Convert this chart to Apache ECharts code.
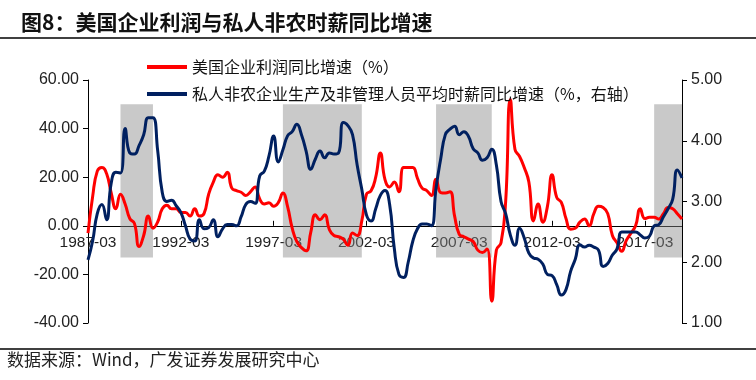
<!DOCTYPE html>
<html>
<head>
<meta charset="utf-8">
<script src="https://cdn.jsdelivr.net/npm/echarts@6/dist/echarts.min.js"></script>
<style>
html,body{margin:0;padding:0;background:#fff;}
#chart{width:756px;height:380px;}
</style>
</head>
<body>
<div id="chart"></div>
<script>
// ---- data ----
var startYear = 1987;
var endYear = 2019;
var categories = [];
for (var y = startYear; y <= endYear; y++) {
  ['03','06','09','12'].forEach(function (m) {
    if (y === endYear && m !== '03') return;
    categories.push(y + '-' + m);
  });
}

var profitNames = '美国企业利润同比增速（%）';
var wageNames = '私人非农企业生产及非管理人员平均时薪同比增速（%，右轴）';

var profitYoY = [
  -3, 12, 22.5, 24, 21.5, 13.5, 7, 13, 9, 3,
  1, -8.5, -4, 4, -1, 1.5, 7, 8.5, 7, 7,
  5.5, 5.5, 4, 7, 4, 5, 13, 18, 21, 20,
  22, 15.5, 14.5, 13.8, 12.5, 14, 16, 11, 9, 9.5,
  8, 9.5, 13.5, 8, -1, -6.5, -9, -10.3, -2.7, 4.5,
  2.5, 4.5, -1.5, -4, -4.5, -5.5, -8, -3, -4, 2,
  13, 14.4, 20, 30, 19, 16, 18, 14, 24, 24,
  24, 19.5, 15.5, 14.5, 12.5, 19.2, 13.7, 13.5, 14, 4,
  -3.5, -4.5, -5.5, -6.5, -10, -11, -9.5, -31, -10, -7,
  10, 52, 31.5, 28.5, 24, 18, 2, 9, 1.5, 8,
  21, 11.7, 9.6, 3, -1.4, -1, 1.5, 2.8, 0, 5,
  8, 7.5, 5, -4, -7, -10.5, -6, -3, 0, 7,
  3, 3.5, 3.5, 2.8, 5, 7.5, 7, 5, 2.8
];

var wageYoY = [
  2.04, 2.35, 2.8, 2.95, 2.7, 3.3, 3.48, 3.47, 4.2, 3.8,
  3.78, 3.92, 4.1, 4.38, 4.38, 3.85, 3.15, 3.0, 3.02, 2.93,
  2.82, 2.6, 2.38, 2.35, 2.7, 2.55, 2.57, 2.7, 2.42, 2.55,
  2.62, 2.62, 2.6, 2.75, 2.95, 3.0, 2.97, 3.42, 3.5, 3.75,
  4.08, 3.65, 3.85, 4.08, 4.15, 4.27, 4.1, 3.83, 3.53, 3.7,
  3.83, 3.72, 3.8, 3.78, 3.8, 4.3, 4.25, 4.1, 3.6, 3.2,
  2.78, 2.68, 2.88, 3.1, 3.18, 2.95, 2.23, 1.8, 1.75, 2.0,
  2.35, 2.55, 2.63, 2.63, 2.6, 3.22, 3.7, 4.1, 4.19, 4.24,
  4.1, 4.15, 4.07, 3.87, 3.8, 3.68, 3.72, 3.86, 3.6, 3.0,
  2.8, 2.45, 2.28, 2.56, 2.4, 2.15, 2.07, 2.05, 1.97, 1.8,
  1.78, 1.63, 1.46, 1.55, 1.85, 2.05, 2.29, 2.25, 2.28, 2.25,
  2.2, 1.93, 1.98, 2.12, 2.22, 2.5, 2.5, 2.5, 2.5, 2.45,
  2.4, 2.43, 2.6, 2.62, 2.75, 2.88, 3.04, 3.52, 3.39
];

// shaded periods (start, end category) and their vertical extent on left axis
var shadeStarts = ['1988-12', '1997-09', '2005-12', '2017-09'];
var shadeEnds   = ['1990-09', '2001-12', '2008-12', '2019-03'];
var shadeTop = 50;
var shadeBottom = -13;

var leftTicks = { min: -40, max: 60, interval: 20 };
var rightTicks = { min: 1, max: 5, interval: 1 };

var titleText = '图8：美国企业利润与私人非农时薪同比增速';
var sourceText = '数据来源：Wind，广发证券发展研究中心';

// ---- chart ----
var chart = echarts.init(document.getElementById('chart'), null, { renderer: 'canvas' });
var cjk = '"Noto Sans CJK SC", "Noto Sans", sans-serif';
var latin = '"Liberation Sans", Arial, sans-serif';

var gridTop = 80, gridBottom = 57, chartH = 380;
var plotH = chartH - gridTop - gridBottom;
// distance from bottom of plot to the zero line of the left axis
var zeroOffset = plotH * (0 - leftTicks.min) / (leftTicks.max - leftTicks.min);

var areas = shadeStarts.map(function (s, i) {
  return [{ xAxis: s, yAxis: shadeTop }, { xAxis: shadeEnds[i], yAxis: shadeBottom }];
});

var option = {
  animation: false,
  backgroundColor: '#fff',
  title: {
    text: titleText,
    left: 16, top: 7,
    textStyle: { fontSize: 21, fontWeight: 'bold', color: '#111', fontFamily: cjk }
  },
  legend: {
    orient: 'vertical',
    left: 142, top: 54,
    itemWidth: 40, itemHeight: 4, itemGap: 11,
    icon: 'rect',
    textStyle: { fontSize: 16, color: '#111', fontFamily: cjk },
    data: [profitNames, wageNames]
  },
  grid: { left: 88, right: 74, top: gridTop, bottom: gridBottom, containLabel: false },
  xAxis: {
    type: 'category',
    data: categories,
    boundaryGap: false,
    position: 'bottom',
    offset: -zeroOffset,
    axisLine: { onZero: false, lineStyle: { color: '#000', width: 1 } },
    axisTick: { inside: true, interval: 19, length: 5, lineStyle: { color: '#000' } },
    axisLabel: { interval: 19, margin: 9, fontSize: 15.5, color: '#222', fontFamily: latin },
    splitLine: { show: false }
  },
  yAxis: [
    {
      type: 'value', min: leftTicks.min, max: leftTicks.max, interval: leftTicks.interval,
      axisLine: { show: true, lineStyle: { color: '#000', width: 1 } },
      axisTick: { show: true, length: 5, lineStyle: { color: '#000' } },
      axisLabel: { fontSize: 16, color: '#222', fontFamily: latin, margin: 9,
        formatter: function (v) { return v.toFixed(2); } },
      splitLine: { show: false }
    },
    {
      type: 'value', min: rightTicks.min, max: rightTicks.max, interval: rightTicks.interval,
      position: 'right',
      axisLine: { show: true, lineStyle: { color: '#000', width: 1 } },
      axisTick: { show: true, length: 5, lineStyle: { color: '#000' } },
      axisLabel: { fontSize: 16, color: '#222', fontFamily: latin, margin: 9,
        formatter: function (v) { return v.toFixed(2); } },
      splitLine: { show: false }
    }
  ],
  series: [
    {
      name: profitNames, type: 'line', yAxisIndex: 0, data: profitYoY,
      smooth: 0.5, showSymbol: false, z: 2,
      lineStyle: { color: '#ff0000', width: 3 }, itemStyle: { color: '#ff0000' }
    },
    {
      name: wageNames, type: 'line', yAxisIndex: 1, data: wageYoY,
      smooth: 0.5, showSymbol: false, z: 3,
      lineStyle: { color: '#002060', width: 3 }, itemStyle: { color: '#002060' }
    },
    {
      name: 'shade', type: 'line', yAxisIndex: 0, data: [], z: 6, silent: true,
      markArea: {
        silent: true,
        itemStyle: { color: 'rgba(135,135,135,0.45)' },
        label: { show: false },
        data: areas
      }
    }
  ],
  graphic: [
    { type: 'line', shape: { x1: 0, y1: 38, x2: 756, y2: 38 }, style: { stroke: '#000', lineWidth: 1.5 } },
    { type: 'line', shape: { x1: 0, y1: 349, x2: 756, y2: 349 }, style: { stroke: '#000', lineWidth: 1.5 } },
    { type: 'text', left: 7, top: 351,
      style: { text: sourceText, fontSize: 17, fill: '#222', fontFamily: cjk } }
  ]
};
chart.setOption(option);
</script>
</body>
</html>
